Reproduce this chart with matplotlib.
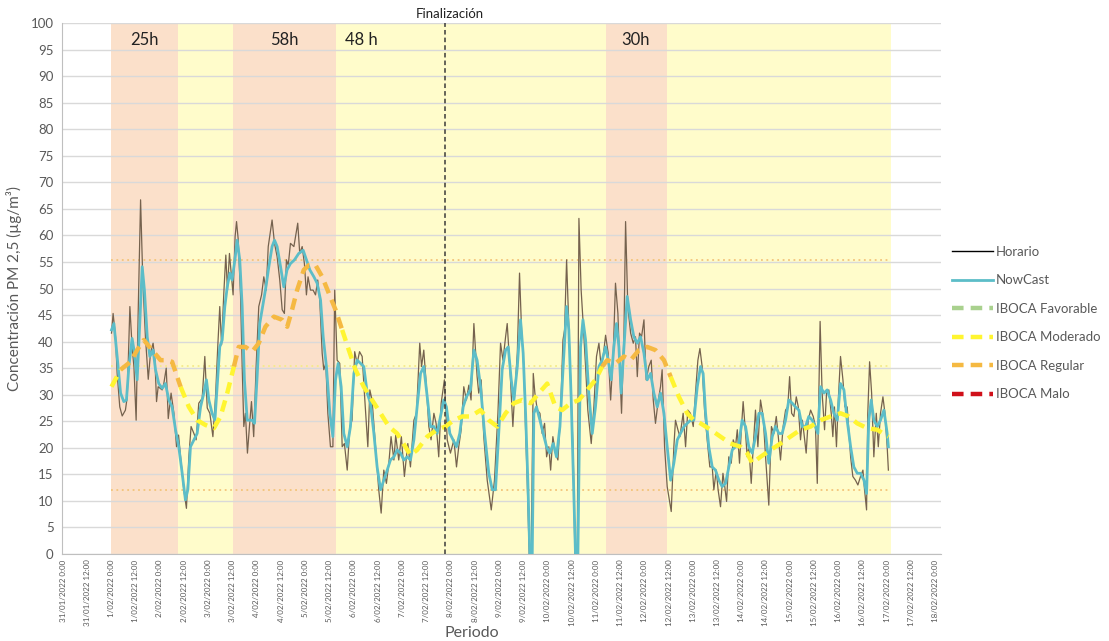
import matplotlib
matplotlib.use("Agg")
import matplotlib.pyplot as plt
from matplotlib.lines import Line2D
import numpy as np

plt.rcParams['font.family'] = ['Lato', 'DejaVu Sans']

# ---------------- data (hours since 1/02/2022 0:00) ----------------
horario_h = [0.0, 0.8, 2.0, 2.8, 4.1, 5.3, 6.9, 7.8, 9.1, 10.2, 11.1, 12.2, 13.2, 14.4, 15.5, 16.8, 18.2, 19.3, 20.6, 21.5,
             22.3, 23.1, 25.1, 25.9, 27.1, 28.1, 29.5, 30.9, 32.2, 33.2, 34.2, 35.8, 37.1, 38.3, 39.4, 40.8, 41.9, 43.2, 44.9, 46.2,
             47.4, 48.7, 50.2, 51.5, 52.6, 53.6, 54.5, 55.6, 56.6, 57.4, 58.4, 59.4, 60.2, 61.2, 61.9, 62.7, 63.9, 64.7, 65.5, 66.3,
             67.3, 68.3, 69.3, 70.4, 71.6, 72.9, 74.3, 75.4, 76.6, 77.6, 79.5, 80.7, 82.0, 83.3, 84.5, 85.6, 86.6, 87.5, 88.6, 90.3,
             92.2, 93.2, 94.4, 95.5, 96.5, 97.3, 98.5, 99.8, 101.0, 102.1, 103.1, 104.3, 105.1, 106.1, 107.1, 108.4, 109.6, 110.5, 111.7, 113.0,
             114.2, 115.3, 116.7, 118.0, 119.1, 120.4, 121.6, 122.8, 124.1, 125.2, 126.9, 127.9, 129.0, 131.2, 132.3, 133.5, 134.8, 136.1, 137.3, 138.4,
             139.8, 140.7, 142.2, 143.5, 145.0, 146.7, 148.0, 149.7, 151.0, 152.6, 153.5, 154.6, 155.9, 157.1, 158.2, 159.6, 160.7, 162.0, 163.2, 164.8,
             166.2, 167.8, 169.5, 170.8, 171.9, 173.1, 174.4, 175.7, 176.9, 178.0, 179.4, 181.0, 181.8, 183.0, 184.3, 186.0, 187.3, 188.0, 189.6, 191.3,
             192.6, 193.8, 195.1, 195.9, 197.2, 198.7, 199.7, 200.9, 202.0, 203.0, 204.1, 205.0, 205.8, 206.8, 207.8, 208.8, 209.6, 210.8, 212.1, 213.2,
             214.4, 215.4, 216.5, 217.4, 218.5, 219.8, 221.0, 222.3, 223.5, 224.3, 225.3, 226.1, 227.3, 228.6, 229.4, 230.6, 231.4, 232.5, 233.5, 234.7,
             235.8, 237.5, 238.8, 240.1, 241.3, 242.4, 243.4, 244.6, 245.9, 247.1, 248.4, 249.5, 250.7, 251.7, 252.5, 253.7, 254.5, 255.6, 257.0, 258.3,
             259.4, 260.3, 261.4, 262.4, 263.6, 264.7, 266.0, 267.2, 268.2, 269.3, 270.7, 271.8, 272.6, 273.8, 275.1, 277.1, 278.4, 279.2, 280.4, 281.4,
             283.0, 284.2, 285.3, 286.6, 288.0, 289.1, 290.3, 291.3, 292.4, 293.6, 294.9, 296.2, 297.4, 298.2, 299.4, 300.3, 301.5, 302.7, 303.6, 304.5,
             305.6, 306.8, 307.8, 308.9, 309.8, 310.9, 311.9, 312.7, 313.9, 314.7, 315.5, 316.7, 317.7, 318.8, 320.0, 321.3, 322.6, 323.8, 325.4, 326.7,
             327.9, 329.1, 330.1, 331.2, 332.5, 333.7, 334.8, 335.7, 336.7, 337.8, 339.0, 340.0, 341.1, 342.0, 342.8, 343.9, 344.9, 346.1, 347.4, 348.5,
             349.4, 350.2, 350.8, 351.8, 353.0, 354.0, 355.1, 356.3, 357.1, 357.9, 358.9, 359.8, 360.9, 362.1, 363.1, 364.2, 365.9, 367.0, 368.3, 369.5,
             370.8, 372.0, 372.8, 373.8, 374.4, 375.3, 376.3, 377.4, 378.6, 379.6, 380.7, 381.9, 382.9, 384.0, 384.6]
horario_v = [41.6, 45.3, 40.9, 34.0, 27.7, 26.0, 27.1, 29.6, 46.6, 39.0, 35.3, 25.2, 45.3, 66.7, 51.6, 40.9, 32.9, 37.8, 39.7, 36.5,
             28.7, 31.5, 30.9, 32.1, 35.0, 25.5, 30.3, 26.5, 20.2, 22.4, 18.3, 12.1, 8.6, 18.3, 24.0, 22.7, 21.5, 28.4, 29.3, 37.2,
             27.5, 26.5, 22.1, 29.6, 39.0, 46.6, 39.4, 49.1, 56.3, 49.7, 56.6, 52.2, 48.8, 59.8, 62.6, 59.4, 48.5, 35.3, 24.0, 26.5,
             19.0, 24.0, 28.7, 22.1, 35.3, 46.6, 48.8, 52.2, 49.7, 57.9, 62.9, 58.5, 56.0, 51.6, 46.0, 45.3, 55.4, 54.4, 58.5, 57.9,
             62.3, 56.6, 57.9, 54.7, 48.8, 52.2, 49.7, 49.7, 48.8, 51.6, 47.8, 37.8, 34.7, 35.9, 26.5, 20.2, 20.2, 49.7, 36.5, 35.9,
             20.2, 20.8, 15.8, 24.0, 25.2, 38.1, 35.9, 38.1, 37.2, 30.3, 20.2, 30.9, 29.0, 17.7, 12.1, 7.7, 15.8, 13.3, 17.1, 22.1,
             17.7, 22.4, 17.7, 22.1, 14.6, 20.8, 16.4, 25.2, 26.5, 39.7, 35.3, 38.4, 31.5, 24.0, 21.5, 26.5, 24.6, 18.3, 28.4, 32.8,
             21.5, 19.0, 21.5, 16.4, 20.2, 23.4, 31.5, 29.0, 31.8, 29.0, 43.4, 33.4, 30.3, 32.8, 22.1, 13.9, 10.2, 8.3, 13.9, 26.5,
             39.7, 36.5, 40.9, 43.4, 35.3, 24.0, 30.9, 37.8, 52.9, 42.2, 35.3, 23.4, 13.9, 0.0, 0.0, 34.0, 30.3, 27.1, 26.5, 22.7,
             24.6, 18.3, 20.2, 15.8, 22.1, 19.0, 17.7, 26.5, 40.3, 42.2, 55.4, 46.6, 32.8, 18.3, 0.0, 0.0, 63.2, 49.7, 43.4, 35.3,
             27.1, 20.8, 27.7, 37.2, 39.7, 35.3, 37.2, 41.2, 37.8, 29.0, 37.8, 51.0, 45.3, 34.0, 26.5, 41.6, 62.6, 46.6, 41.6, 39.7,
             40.9, 33.4, 41.6, 40.9, 44.1, 32.8, 35.3, 36.5, 29.0, 24.6, 29.0, 31.5, 34.7, 20.2, 12.7, 8.0, 20.2, 25.2, 23.4, 22.1,
             26.5, 20.2, 27.1, 26.5, 24.0, 30.3, 36.5, 38.7, 35.3, 27.1, 21.5, 16.4, 16.4, 12.1, 15.8, 12.1, 8.9, 15.2, 12.7, 9.9,
             18.3, 17.1, 21.5, 20.2, 23.4, 17.1, 24.0, 28.7, 22.7, 18.3, 20.2, 13.3, 20.2, 27.1, 20.2, 29.0, 25.9, 18.3, 9.2, 24.0,
             22.7, 25.9, 22.1, 17.7, 24.0, 27.1, 27.7, 33.4, 26.5, 25.9, 29.6, 27.7, 21.5, 25.2, 22.7, 19.0, 25.2, 27.1, 25.9, 24.0,
             13.3, 30.3, 43.8, 30.3, 23.4, 30.3, 30.9, 26.5, 22.1, 27.7, 20.2, 29.0, 37.2, 32.8, 27.7, 27.7, 18.3, 14.6, 13.9, 13.0,
             14.6, 15.8, 12.1, 8.3, 26.5, 36.2, 30.3, 18.3, 26.5, 20.2, 26.5, 29.6, 26.5, 20.2, 15.8]

nowcast_h = [0.0, 1.2, 2.8, 4.5, 6.1, 7.4, 8.6, 10.2, 11.4, 12.7, 14.0, 15.2, 16.3, 17.7, 19.0, 20.6, 21.8, 23.4, 25.1, 26.7,
             28.4, 30.0, 31.7, 33.3, 35.0, 36.6, 37.8, 39.1, 40.8, 42.4, 44.1, 45.7, 47.0, 48.2, 49.8, 51.2, 52.3, 53.6, 54.8, 56.1,
             57.3, 58.6, 59.7, 61.1, 62.2, 63.5, 64.7, 65.8, 67.2, 68.5, 69.6, 70.8, 72.1, 73.4, 75.1, 76.2, 77.9, 79.5, 80.7, 82.0,
             83.7, 85.3, 86.9, 88.6, 90.6, 92.7, 94.9, 96.5, 98.2, 100.2, 101.8, 103.5, 104.8, 106.4, 108.1, 109.6, 110.9, 112.2, 113.7, 115.0,
             116.7, 118.3, 120.0, 121.6, 123.3, 124.9, 126.6, 128.2, 129.9, 131.5, 133.2, 134.8, 136.5, 138.1, 139.8, 141.4, 143.1, 144.7, 146.4, 148.0,
             149.7, 151.3, 153.0, 154.6, 156.3, 157.9, 159.6, 161.2, 162.9, 164.5, 165.8, 167.5, 169.1, 170.8, 172.4, 174.1, 175.7, 177.7, 179.4, 181.0,
             182.7, 184.7, 186.8, 188.5, 190.1, 191.8, 193.4, 195.1, 196.4, 197.9, 199.2, 200.9, 202.5, 203.8, 205.0, 206.1, 207.1, 208.3, 209.1, 210.4,
             212.1, 213.7, 215.4, 217.0, 218.7, 220.3, 222.0, 223.6, 225.3, 226.4, 227.6, 228.9, 229.7, 230.9, 232.2, 233.4, 234.7, 236.3, 238.0, 239.6,
             241.3, 242.9, 244.6, 245.9, 247.4, 248.7, 250.0, 251.2, 252.3, 253.7, 255.3, 257.0, 258.6, 260.3, 261.9, 263.6, 265.2, 266.9, 268.5, 270.2,
             271.8, 273.5, 275.1, 276.8, 278.4, 280.1, 281.7, 283.4, 285.0, 286.7, 288.3, 290.0, 291.6, 292.9, 294.1, 295.7, 297.4, 299.0, 300.7, 302.3,
             304.0, 305.6, 307.3, 308.9, 310.6, 312.2, 313.9, 315.5, 317.2, 318.8, 320.5, 322.1, 323.8, 325.4, 327.1, 328.7, 330.4, 332.0, 333.7, 335.3,
             337.0, 338.6, 340.3, 341.9, 343.6, 345.2, 346.9, 348.5, 349.7, 351.0, 352.7, 354.3, 356.0, 357.6, 359.3, 360.9, 362.6, 364.2, 365.9, 367.5,
             369.2, 370.8, 372.5, 373.8, 374.9, 376.1, 377.4, 379.1, 380.7, 382.4, 384.0, 384.6]
nowcast_v = [42.2, 43.4, 37.2, 30.3, 28.7, 29.0, 35.3, 40.6, 37.8, 32.8, 43.4, 54.1, 49.7, 40.9, 37.2, 38.4, 34.7, 32.1, 31.2, 32.1,
             29.0, 27.7, 23.4, 20.2, 15.2, 10.2, 12.1, 20.2, 21.5, 22.7, 27.7, 30.3, 32.8, 29.0, 26.5, 25.2, 31.5, 39.0, 40.3, 46.6,
             50.3, 52.9, 51.6, 55.4, 59.1, 55.4, 46.6, 32.8, 25.2, 25.2, 25.2, 24.6, 33.4, 43.4, 47.2, 49.7, 54.1, 57.9, 59.1, 57.9,
             54.1, 50.3, 53.5, 54.7, 55.4, 56.6, 57.2, 55.4, 53.5, 52.2, 51.0, 47.8, 40.9, 35.3, 26.5, 22.1, 32.8, 35.9, 31.5, 22.7,
             20.2, 24.0, 34.0, 36.5, 35.9, 35.3, 30.3, 28.4, 22.7, 16.4, 12.1, 13.9, 15.8, 17.7, 18.3, 19.6, 19.0, 17.7, 18.3, 17.7,
             21.5, 27.7, 34.0, 35.3, 29.6, 24.0, 24.0, 22.7, 25.9, 29.0, 27.7, 22.7, 21.5, 20.2, 22.7, 27.7, 29.6, 30.9, 38.4, 36.5,
             31.5, 22.7, 15.2, 12.1, 12.1, 23.4, 34.7, 38.4, 39.0, 32.8, 29.0, 35.3, 44.1, 37.8, 26.5, 13.9, 0.0, 0.0, 26.5, 27.7,
             25.2, 22.7, 20.2, 19.0, 20.8, 18.3, 24.0, 35.3, 46.6, 42.2, 29.0, 10.8, 0.0, 0.0, 39.0, 44.1, 40.3, 30.3, 22.7, 27.7,
             35.3, 36.5, 39.0, 36.5, 32.8, 39.0, 43.4, 39.0, 30.3, 39.0, 48.5, 44.1, 40.9, 39.7, 40.9, 37.8, 32.8, 34.0, 30.3, 27.7,
             30.3, 26.5, 20.2, 13.9, 17.1, 21.5, 22.7, 24.0, 24.6, 25.2, 25.2, 31.5, 35.3, 34.0, 26.5, 20.2, 16.4, 15.8, 13.9, 12.7,
             13.3, 16.4, 19.6, 20.2, 20.8, 25.2, 24.0, 20.2, 19.0, 22.1, 26.5, 26.5, 22.7, 17.1, 22.1, 24.0, 22.7, 22.7, 25.2, 29.0,
             28.4, 27.7, 27.1, 24.0, 24.0, 25.9, 25.2, 24.0, 22.7, 31.5, 30.3, 30.9, 29.0, 26.5, 25.2, 32.1, 30.9, 25.2, 20.2, 16.4,
             15.2, 15.2, 13.9, 11.4, 25.2, 29.0, 25.2, 24.0, 25.2, 27.1, 22.7, 20.2]

iboca_h = [0.0, 4.5, 9.4, 12.7, 16.0, 20.1, 24.3, 27.6, 30.0, 34.2, 38.3, 42.4, 46.5, 50.7, 54.0, 57.3, 60.6, 63.0, 66.3, 69.6,
           72.9, 76.2, 80.4, 84.5, 87.0, 89.4, 91.9, 95.2, 97.7, 101.0, 104.3, 107.6, 110.9, 114.2, 117.5, 120.8, 124.9, 129.0, 133.2, 137.3,
           141.4, 145.5, 148.0, 151.3, 156.3, 161.2, 165.3, 169.5, 173.6, 177.7, 182.7, 186.8, 191.0, 195.1, 199.2, 203.3, 207.5, 211.6, 215.7, 219.8,
           223.1, 227.3, 231.4, 235.5, 239.6, 242.9, 245.4, 249.5, 253.7, 257.0, 261.1, 265.2, 269.3, 273.5, 276.8, 280.9, 285.0, 288.3, 291.6, 296.6,
           301.5, 306.4, 311.4, 314.7, 317.2, 321.3, 326.3, 331.2, 336.1, 341.1, 346.1, 351.0, 356.0, 360.9, 365.0, 369.2, 374.1, 379.1, 384.6]
iboca_v = [31.5, 34.7, 36.2, 38.4, 40.3, 38.4, 36.5, 36.5, 36.2, 31.5, 27.7, 25.2, 24.3, 23.7, 25.9, 30.3, 35.3, 39.0, 39.0, 38.1,
           39.7, 42.8, 44.7, 44.1, 42.8, 46.0, 49.7, 53.5, 54.4, 54.4, 52.2, 49.1, 46.0, 42.2, 38.4, 34.7, 31.5, 29.0, 26.5, 24.0,
           22.7, 20.2, 18.6, 19.6, 22.1, 23.4, 24.0, 25.2, 25.9, 25.9, 27.1, 25.2, 24.0, 26.5, 28.4, 29.0, 28.4, 30.3, 32.1, 27.7,
           27.1, 28.4, 29.0, 30.9, 32.8, 35.3, 36.5, 35.9, 37.2, 36.5, 38.4, 39.0, 38.4, 36.5, 33.4, 29.6, 26.5, 25.2, 24.6, 23.4,
           22.1, 20.8, 20.2, 19.0, 17.1, 18.3, 19.6, 20.8, 22.1, 23.4, 24.0, 25.2, 25.9, 26.5, 25.9, 24.6, 23.7, 23.4, 22.1]

# episode bands (hours since 1/02/2022 0:00)
band_start = [0, 33, 60, 111, 244.6, 275]
band_end = [33, 60, 111, 244.6, 275, 386]
band_kind = ['regular', 'moderado', 'regular', 'moderado', 'regular', 'moderado']
band_labels = ['25h', '58h', '48 h', '30h']
band_label_h = [16.3, 85.6, 123.8, 259.4]

thresholds = [12, 35.4, 55.4]
final_h = 165
final_label = 'Finalización'

tick_labels = ['31/01/2022 0:00', '31/01/2022 12:00',
               '1/02/2022 0:00', '1/02/2022 12:00', '2/02/2022 0:00', '2/02/2022 12:00',
               '3/02/2022 0:00', '3/02/2022 12:00', '4/02/2022 0:00', '4/02/2022 12:00',
               '5/02/2022 0:00', '5/02/2022 12:00', '6/02/2022 0:00', '6/02/2022 12:00',
               '7/02/2022 0:00', '7/02/2022 12:00', '8/02/2022 0:00', '8/02/2022 12:00',
               '9/02/2022 0:00', '9/02/2022 12:00', '10/02/2022 0:00', '10/02/2022 12:00',
               '11/02/2022 0:00', '11/02/2022 12:00', '12/02/2022 0:00', '12/02/2022 12:00',
               '13/02/2022 0:00', '13/02/2022 12:00', '14/02/2022 0:00', '14/02/2022 12:00',
               '15/02/2022 0:00', '15/02/2022 12:00', '16/02/2022 0:00', '16/02/2022 12:00',
               '17/02/2022 0:00', '17/02/2022 12:00', '18/02/2022 0:00']

# ---------------- styles ----------------
C_REG_BAND = '#FBE0CA'
C_MOD_BAND = '#FFFCCB'
C_HOR = '#75624E'
C_NOW = '#5CBDC8'
C_FAV = '#A9D18E'
C_MODER = '#FFF530'
C_REGUL = '#F5B942'
C_MALO = '#D0101A'
GRAY = '#595959'

fig = plt.figure(figsize=(11.09, 6.41), dpi=100)
ax = fig.add_axes([62 / 1109, 1 - 554 / 641, 878.7 / 1109, 531 / 641])

ax.set_xlim(-24.5, 410.5)
ax.set_ylim(0, 100)

for s, e, k in zip(band_start, band_end, band_kind):
    ax.axvspan(s, e, color=C_REG_BAND if k == 'regular' else C_MOD_BAND, lw=0, zorder=0)

ax.set_yticks(np.arange(0, 101, 5))
ax.yaxis.grid(True, color='#D9D9D9', lw=1.0, zorder=1)
ax.set_axisbelow(True)

th_colors = ['#F3C47A', '#F4EB8A', '#F3C47A']
for th, c in zip(thresholds, th_colors):
    ax.plot([0, 386], [th, th], color=c, lw=1.3, ls=(0, (1, 2)), zorder=2)

ax.plot(horario_h, horario_v, color=C_HOR, lw=0.9, zorder=3)
ax.plot(nowcast_h, nowcast_v, color=C_NOW, lw=2.0, zorder=4)

# IBOCA line: orange where regular (>=35.5 within regular episode), yellow otherwise
ih = np.array(iboca_h)
iv = np.array(iboca_v)
in_reg = np.zeros(len(ih), bool)
for s, e, k in zip(band_start, band_end, band_kind):
    if k == 'regular':
        in_reg |= (ih >= s) & (ih <= e)
reg = (iv >= 35.5) & in_reg
reg_ext = reg.copy()
reg_ext[1:] |= reg[:-1]
reg_ext[:-1] |= reg[1:]
mod_v = np.where(~reg, iv, np.nan)
reg_v = np.where(reg_ext, iv, np.nan)
dash = (0, (2.6, 1.6))
ax.plot(ih, mod_v, color=C_MODER, lw=3.2, ls=dash, zorder=5)
ax.plot(ih, reg_v, color=C_REGUL, lw=3.2, ls=dash, zorder=5)

# Finalización marker
ax.plot([final_h, final_h], [0, 100], color='#3A3A3A', lw=1.1, ls=(0, (3, 2)), zorder=6, clip_on=False)
ax.text(final_h + 2.5, 100.6, final_label, ha='center', va='bottom', fontsize=9.5, color='#222222')

for lab, h in zip(band_labels, band_label_h):
    ax.text(h, 96.8, lab, ha='center', va='center', fontsize=12, color='#222222', zorder=7)

ax.set_xticks([-24 + 12 * i for i in range(len(tick_labels))])
ax.set_xticklabels(tick_labels, rotation=90, fontsize=5.8, color=GRAY)
ax.tick_params(axis='x', length=0, pad=4)
ax.tick_params(axis='y', length=0, pad=6, labelsize=9.5, labelcolor=GRAY)

for sp in ['top', 'right']:
    ax.spines[sp].set_visible(False)
ax.spines['left'].set_color('#BFBFBF')
ax.spines['bottom'].set_color('#BFBFBF')

ax.set_ylabel('Concentración PM 2,5 (µg/m³)', fontsize=11, color=GRAY, labelpad=6)
fig.text(472 / 1109, 1 - 633 / 641, 'Periodo', ha='center', va='center', fontsize=11.5, color=GRAY)

handles = [Line2D([], [], color='black', lw=1.0),
           Line2D([], [], color=C_NOW, lw=2.0),
           Line2D([], [], color=C_FAV, lw=3.2, ls=dash),
           Line2D([], [], color=C_MODER, lw=3.2, ls=dash),
           Line2D([], [], color=C_REGUL, lw=3.2, ls=dash),
           Line2D([], [], color=C_MALO, lw=3.2, ls=dash)]
labels = ['Horario', 'NowCast', 'IBOCA Favorable', 'IBOCA Moderado', 'IBOCA Regular', 'IBOCA Malo']
fig.legend(handles, labels, loc='upper left', bbox_to_anchor=(952 / 1109, 1 - 246 / 641),
           frameon=False, fontsize=9.5, handlelength=3.1, handletextpad=0.25,
           labelspacing=1.25, borderaxespad=0, borderpad=0, labelcolor=GRAY)

fig.savefig('out.png', dpi=100, facecolor='white')
